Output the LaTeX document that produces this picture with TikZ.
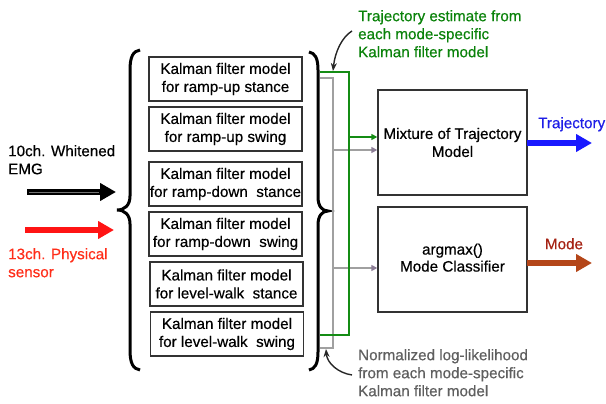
\documentclass[tikz,border=0pt]{standalone}
\usepackage{fontspec}
\setmainfont{Liberation Sans}[BoldFont=Liberation Sans, BoldFeatures={FakeBold=0.45}]
\usetikzlibrary{arrows.meta}
\definecolor{kgreen}{RGB}{20,140,20}
\definecolor{kgreentext}{RGB}{10,130,10}
\definecolor{kgray}{RGB}{160,160,160}
\definecolor{kgraytip}{RGB}{140,125,150}
\definecolor{kgraytext}{RGB}{95,95,95}
\definecolor{kblue}{RGB}{25,25,255}
\definecolor{kbluetext}{RGB}{30,30,230}
\definecolor{kbrown}{RGB}{180,70,25}
\definecolor{kbrowntext}{RGB}{165,35,20}
\definecolor{kred}{RGB}{255,20,20}
\definecolor{kredtext}{RGB}{255,45,25}
\begin{document}
\begin{tikzpicture}[x=1pt,y=-1pt,
  txt/.style={inner sep=0pt, font=\fontsize{15.2}{18}\selectfont\bfseries},
  kbox/.style={txt, draw=black!80, line width=1.4pt, minimum width=153pt,
    minimum height=44pt, align=center},
  bigbox/.style={txt, draw=black!80, line width=1.4pt, minimum width=149pt,
    minimum height=105pt, align=center},
  fat/.style={line width=5.5pt, -{Triangle[length=16pt,width=17pt]}},
  brace/.style={line width=3pt, black},
  greenline/.style={kgreen, line width=2.8pt},
  grayline/.style={kgray, line width=2.4pt},
  grayarrow/.style={kgray, line width=2.4pt, -{Triangle[length=6pt,width=6pt,color=kgraytip,fill=kgraytip]}},
  greenarrow/.style={kgreen, line width=2.8pt, -{Triangle[length=6pt,width=6pt]}},
  annot/.style={black!85, line width=1.4pt, -{Stealth[length=8pt,width=6pt]}}
]
\useasboundingbox (0,0) rectangle (606,404);

% Kalman filter boxes
\node[kbox] (k1) at (225.5,79)  {Kalman filter model\\for ramp-up stance};
\node[kbox] (k2) at (225.5,129) {Kalman filter model\\for ramp-up swing};
\node[kbox] (k3) at (225.5,184) {Kalman filter model\\for ramp-down\ \ stance};
\node[kbox] (k4) at (225.5,234) {Kalman filter model\\for ramp-down\ \ swing};
\node[kbox] (k5) at (226.5,284) {Kalman filter model\\for level-walk\ \ stance};
\node[kbox] (k6) at (227,334)   {Kalman filter model\\for level-walk\ \ swing};

% right-hand blocks
\node[bigbox] (mix) at (452.5,142.5) {Mixture of Trajectory\\Model};
\node[bigbox] (cls) at (452.5,259.5) {\raisebox{-3pt}{\begin{tabular}{@{}c@{}}argmax()\\[-1pt]Mode Classifier\end{tabular}}};

% braces
\draw[brace] (140,50) .. controls (133,51) and (130,57) .. (130,70)
  -- (130,196) .. controls (130,205) and (125,210) .. (117,210)
  .. controls (125,210) and (130,215) .. (130,224)
  -- (130,350) .. controls (130,363) and (133,369) .. (140,370);
\draw[brace] (309,52) .. controls (315,53) and (318,58) .. (318,70)
  -- (318,197) .. controls (318,206) and (322,211) .. (328,211)
  .. controls (322,211) and (318,216) .. (318,225)
  -- (318,352) .. controls (318,364) and (315,369) .. (309,370);

% input labels and arrows
\node[txt, anchor=north west, align=left] (emg) at (8,145) {10ch. Whitened\\EMG};
\node[txt, anchor=north west, align=left, text=kredtext] (phys) at (8,248) {13ch. Physical\\sensor};
\coordinate (a1s) at (27,192);  \coordinate (a1e) at (116,192);
\coordinate (a2s) at (25,230);  \coordinate (a2e) at (114,230);
\draw[fat, black] (a1s) -- (a1e);
\draw[black!55, line width=1pt] (29,192) -- (99,192);
\draw[fat, kred] (a2s) -- (a2e);

% gray bracket and arrows
\coordinate (g1) at (320,78);  \coordinate (g2) at (333,78);
\coordinate (g3) at (333,348); \coordinate (g4) at (320,348);
\draw[grayline] (g1) -- (g2) -- (g3) -- (g4);
\coordinate (gm) at (333,150);
\coordinate (gc) at (333,268);
\draw[grayarrow] (gm) -- (mix.west |- gm);
\draw[grayarrow] (gc) -- (cls.west |- gc);

% green bracket and arrow
\coordinate (r1) at (320,72);  \coordinate (r2) at (349,72);
\coordinate (r3) at (349,335); \coordinate (r4) at (320,335);
\draw[greenline] (r1) -- (r2) -- (r3) -- (r4);
\coordinate (rm) at (349,137);
\draw[greenarrow] (rm) -- (mix.west |- rm);

% annotations
\node[txt, anchor=north west, align=left, text=kgreentext] (topnote) at (358,10)
  {Trajectory estimate from\\each mode-specific\\Kalman filter model};
\node[txt, anchor=north west, align=left, text=kgraytext] (botnote) at (358,349)
  {Normalized log-likelihood\\from each mode-specific\\Kalman filter model};
\coordinate (ta) at (352,31);  \coordinate (tb) at (333,71);
\coordinate (ba) at (352,375); \coordinate (bb) at (326,349);
\draw[annot] (ta) .. controls (342,37) and (335,52) .. (tb);
\draw[annot] (ba) .. controls (338,373) and (327,363) .. (bb);

% outputs
\coordinate (o1s) at (527,143); \coordinate (o1e) at (592,143);
\coordinate (o2s) at (527,263); \coordinate (o2e) at (592,263);
\draw[fat, kblue] (o1s) -- (o1e);
\draw[fat, kbrown] (o2s) -- (o2e);
\node[txt, anchor=north west, text=kbluetext] (traj) at (538,117) {Trajectory};
\node[txt, anchor=north, text=kbrowntext] (mode) at (564,238) {Mode};
\end{tikzpicture}
\end{document}
